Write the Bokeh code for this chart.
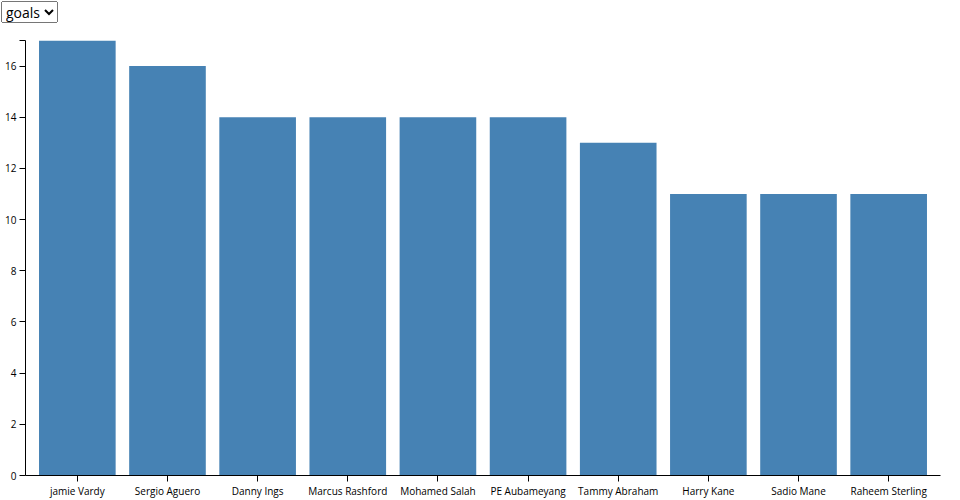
from bokeh.plotting import figure
from bokeh.models import FactorRange, Range1d, FixedTicker, Div, ColumnDataSource
from bokeh.layouts import column
from bokeh.embed import file_html
from bokeh.resources import INLINE

players = ["jamie Vardy", "Sergio Aguero", "Danny Ings", "Marcus Rashford", "Mohamed Salah",
           "PE Aubameyang", "Tammy Abraham", "Harry Kane", "Sadio Mane", "Raheem Sterling"]
goals = [17, 16, 14, 14, 14, 14, 13, 11, 11, 11]
y_ticks = [0, 2, 4, 6, 8, 10, 12, 14, 16]

src = ColumnDataSource(dict(player=players, goals=goals))

sel = Div(text='<select style="font-family:\'Open Sans\';font-size:14px;margin:1px 0 0 1px;'
               'height:22px;">'
               '<option>goals</option></select>',
          width=200, height=26, margin=(0, 0, 0, 0))

ymax = max(goals)
p = figure(x_range=FactorRange(factors=players, range_padding=0.075, range_padding_units="absolute"),
           y_range=Range1d(0, ymax),
           width=952, height=474, output_backend="svg", toolbar_location=None,
           min_border_left=25, min_border_right=12, min_border_top=14, min_border_bottom=0,
           margin=(0, 0, 0, 0))
p.vbar(x="player", top="goals", width=0.85, source=src, fill_color="#4682b4", line_color=None)

p.xgrid.visible = False
p.ygrid.visible = False
p.outline_line_color = None

# domain end tick at the top of the y axis (unlabelled)
p.yaxis.ticker = FixedTicker(ticks=y_ticks + [ymax])
p.yaxis.major_label_overrides = {ymax: ""}
p.yaxis.minor_tick_line_color = None
p.yaxis.major_tick_in = 0
p.yaxis.major_tick_out = 6
p.xaxis.major_tick_in = 0
p.xaxis.major_tick_out = 6
for ax in (p.xaxis, p.yaxis):
    ax.axis_line_color = "black"
    ax.major_tick_line_color = "black"
    ax.major_label_text_font = "Open Sans"
    ax.major_label_text_font_size = "10px"
    ax.major_label_text_color = "black"
    ax.major_label_standoff = 3
p.xaxis.major_label_standoff = 2

layout = column(sel, p, spacing=0)
open("out.html", "w").write(file_html(layout, INLINE))
